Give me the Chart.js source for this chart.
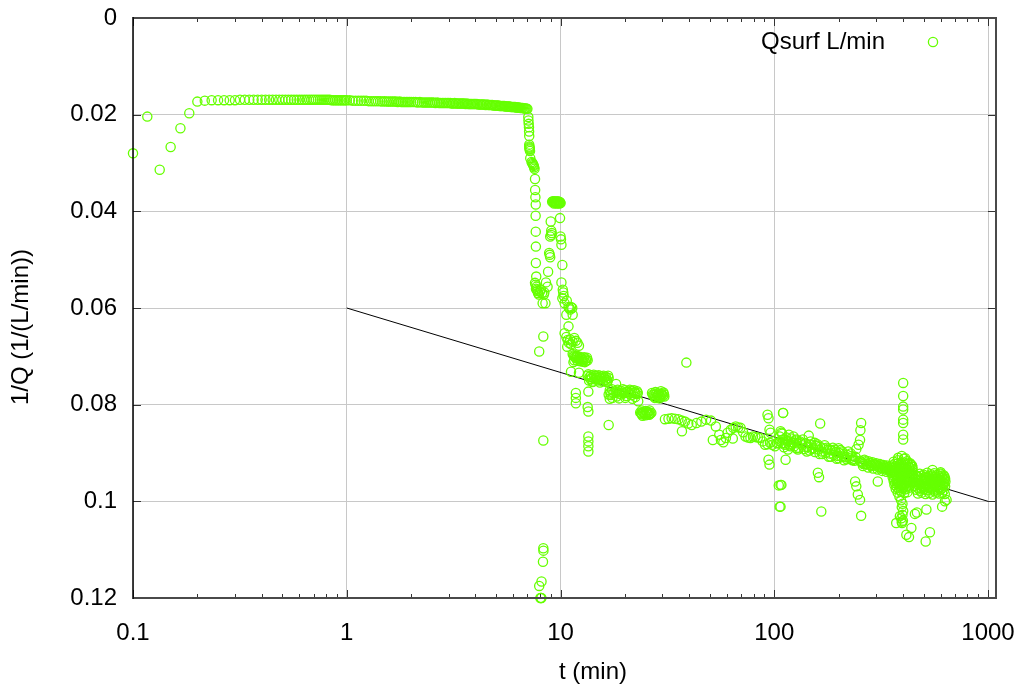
<!DOCTYPE html>
<html>
<head>
<meta charset="utf-8">
<title>Qsurf</title>
<script src="https://cdn.jsdelivr.net/npm/chart.js@4.4.0/dist/chart.umd.min.js"></script>
<style>
  html, body { margin: 0; padding: 0; background: #fff; }
  canvas { display: block; }
</style>
</head>
<body>
<canvas id="qChart" width="1021" height="687"></canvas>
<script>
// 1/Q of the surface flow against time, log time axis, 1/Q grows downward.

// start-up and plateau, time in seconds
const plateauSec = [
  6,7,8,9,10,11,12,13,
  14,15,16,17,18,19,20,21,22,23,24,25,26,27,28,29,30,31,32,33,34,35,36,37,
  38,39,40,41,42,43,44,45,46,47,48,49,50,51,52,53,54,55,56,57,58,59,60,
  62,64,66,68,70,72,74,76,78,80,82,84,86,88,90,92,94,96,98,100,102,104,106,108,110,112,114,116,118,120,
  123,126,129,132,135,138,141,144,147,150,153,156,159,162,165,168,171,174,177,180,
  183,186,189,192,195,198,201,204,207,210,213,216,219,222,225,228,231,234,237,240,
  244,248,252,256,260,264,268,272,276,280,284,288,292,296,300,304,308,312,316,320,
  324,328,332,336,340,344,348,352,356,360,364,368,372,376,380,384,388,392,396,400,
  404,408,412,416,420
];
const plateauQ = [
  0.0280,0.0204,0.0314,0.0267,0.0228,0.0197,0.0173,0.0171,
  0.0170,0.0170,0.0170,0.0170,0.0170,0.0169,0.0169,0.0169,0.0169,0.0169,0.0169,0.0169,
  0.0169,0.0169,0.0169,0.0169,0.0169,0.0169,0.0169,0.0169,0.0169,0.0169,0.0169,0.0169,
  0.0169,0.0169,0.0169,0.0169,0.0169,0.0169,0.0169,0.0169,0.0169,0.0169,0.0169,0.0169,0.0169,
  0.0170,0.0170,0.0170,0.0170,0.0170,0.0170,0.0170,0.0170,0.0170,0.0170,
  0.0170,0.0171,0.0171,0.0171,0.0171,0.0171,0.0171,0.0172,0.0172,0.0172,
  0.0172,0.0172,0.0172,0.0173,0.0172,0.0173,0.0173,0.0173,0.0173,0.0173,
  0.0173,0.0174,0.0173,0.0174,0.0174,0.0174,0.0174,0.0174,0.0174,0.0174,
  0.0174,0.0174,0.0175,0.0174,0.0175,0.0175,0.0175,0.0175,0.0175,0.0175,
  0.0175,0.0176,0.0175,0.0176,0.0176,0.0176,0.0176,0.0176,0.0176,0.0176,
  0.0176,0.0177,0.0177,0.0176,0.0177,0.0177,0.0177,0.0177,0.0177,0.0177,
  0.0177,0.0178,0.0177,0.0178,0.0178,0.0178,0.0178,0.0178,0.0178,0.0178,
  0.0178,0.0179,0.0179,0.0179,0.0179,0.0179,0.0180,0.0179,0.0180,0.0180,
  0.0180,0.0180,0.0181,0.0181,0.0181,0.0181,0.0181,0.0182,0.0182,0.0182,
  0.0182,0.0182,0.0183,0.0183,0.0183,0.0183,0.0183,0.0184,0.0184,0.0184,
  0.0184,0.0184,0.0185,0.0185,0.0185,0.0185,0.0186,0.0186,0.0186,0.0186,
  0.0187,0.0187,0.0187,0.0188,0.0188
];

// collapse around 7-8 min (times from here on in minutes)
const dropT = [
  7.07,7.08,7.10,7.12,7.13,7.14,7.14,7.15,7.16,7.17,
  7.18,7.20,7.22,7.32,7.38,7.42,7.46,7.50,7.52,7.56,
  7.60,7.61,7.63,7.66,7.65,7.66,7.67,7.67,7.70,7.60,
  7.65,7.72,7.68,7.75,7.80,7.85,7.92,8.00,8.10,8.20,
  8.35,8.40,8.25,8.31,7.95,8.31,8.31,8.32,8.28,8.15,
  7.95,8.05,8.10,8.14
];
const dropQ = [
  0.0205,0.0212,0.0219,0.0226,0.0235,0.0244,0.0262,0.0266,0.0268,0.0270,
  0.0272,0.0275,0.0290,0.0298,0.0300,0.0302,0.0304,0.0306,0.0309,0.0312,
  0.0333,0.0356,0.0371,0.0386,0.0409,0.0442,0.0473,0.0507,0.0535,0.0548,
  0.0552,0.0556,0.0560,0.0562,0.0565,0.0569,0.0572,0.0566,0.0562,0.0569,
  0.0572,0.0568,0.0590,0.0659,0.0690,0.0874,0.1097,0.1102,0.1125,0.1166,
  0.1175,0.1200,0.1200,0.1200
];

// step near 10 min
const stepT = [
  9.14,9.21,9.26,9.31,9.37,9.41,9.46,9.52,9.56,9.61,
  9.66,9.72,9.76,9.81,9.86,9.91,9.95,10.01,9.33,9.62,9.88,
  9.00,9.95,9.05,8.95,9.10,9.05,10.00,10.05,10.10,8.85,
  8.90,8.95,10.20,8.75,8.55,8.70,10.10,10.25,10.30,10.35,
  10.20,8.50,10.45,10.70,10.90,11.00,11.20,11.35,11.10,10.65,
  11.40,10.90,10.45,10.65,10.80,10.95,10.75,11.10,11.40,11.20,
  11.60,11.80,12.00,12.20
];
const stepQ = [
  0.0380,0.0379,0.0381,0.0380,0.0382,0.0379,0.0381,0.0380,0.0383,0.0380,
  0.0382,0.0379,0.0381,0.0383,0.0380,0.0382,0.0381,0.0383,0.0384,0.0384,0.0384,
  0.0421,0.0414,0.0449,0.0452,0.0445,0.0440,0.0452,0.0458,0.0469,0.0486,
  0.0490,0.0495,0.0511,0.0525,0.0547,0.0556,0.0547,0.0562,0.0568,0.0575,
  0.0580,0.0590,0.0590,0.0585,0.0598,0.0600,0.0598,0.0600,0.0603,0.0614,
  0.0614,0.0638,0.0652,0.0660,0.0666,0.0672,0.0680,0.0665,0.0670,0.0675,
  0.0662,0.0668,0.0672,0.0678
];

// settling, 11-31 min
const settleT = [
  11.40,11.60,11.80,12.00,12.20,12.50,12.80,13.10,13.40,11.50,12.40,13.00,
  11.50,11.70,11.90,12.10,12.30,12.60,12.90,13.20,11.60,12.00,12.70,13.30,
  11.20,12.20,13.40,13.70,14.00,14.40,14.80,15.20,15.60,16.00,
  16.40,16.80,13.60,14.20,15.00,15.80,16.60,18.20,13.50,11.80,
  11.80,11.80,13.40,13.50,16.80,17.00,16.80,13.50,13.50,13.50,13.50,
  13.50,13.90,14.30,14.70,15.10,15.50,15.90,16.30,16.70,13.80,14.60,15.40,16.20,
  14.10,15.30,16.50,
  17.0,17.4,18.1,18.5,19.1,19.6,20.0,20.6,21.1,21.5,
  22.1,22.8,17.2,18.3,19.3,20.4,21.4,22.4,23.0,23.1,
  17.1,17.7,18.3,18.8,19.4,19.9,20.3,20.9,21.3,21.8,22.3,22.7,
  17.5,18.8,20.1,21.7,
  23.6,24.0,24.5,25.0,25.5,26.0,26.6,24.2,25.8,
  23.8,24.3,24.8,25.3,25.8,26.3,24.0,25.1,26.1,
  26.8,27.3,27.8,28.3,28.8,29.3,29.8,30.3,30.6,28.0,29.5,
  27.0,27.5,28.1,28.6,29.1,29.6,30.1,30.5,27.6,29.0
];
const settleQ = [
  0.0695,0.0700,0.0704,0.0700,0.0706,0.0703,0.0708,0.0705,0.0708,0.0712,0.0710,0.0712,
  0.0698,0.0702,0.0699,0.0704,0.0701,0.0706,0.0702,0.0709,0.0708,0.0709,0.0711,0.0703,
  0.0732,0.0734,0.0740,0.0742,0.0744,0.0741,0.0745,0.0743,0.0746,0.0744,
  0.0748,0.0745,0.0750,0.0752,0.0750,0.0752,0.0750,0.0757,0.0773,0.0776,
  0.0786,0.0797,0.0805,0.0814,0.0779,0.0788,0.0842,0.0866,0.0876,0.0886,0.0897,
  0.0737,0.0739,0.0738,0.0740,0.0739,0.0741,0.0740,0.0742,0.0740,0.0747,0.0748,0.0747,0.0749,
  0.0753,0.0754,0.0753,
  0.0770,0.0768,0.0772,0.0769,0.0771,0.0768,0.0770,0.0773,0.0769,0.0771,
  0.0770,0.0772,0.0780,0.0783,0.0779,0.0782,0.0780,0.0784,0.0776,0.0793,
  0.0775,0.0776,0.0774,0.0777,0.0775,0.0776,0.0774,0.0777,0.0775,0.0776,0.0774,0.0778,
  0.0786,0.0787,0.0786,0.0788,
  0.0816,0.0820,0.0817,0.0822,0.0818,0.0821,0.0817,0.0823,0.0815,
  0.0818,0.0815,0.0819,0.0816,0.0820,0.0819,0.0812,0.0813,0.0812,
  0.0776,0.0780,0.0774,0.0782,0.0777,0.0784,0.0779,0.0775,0.0783,0.0786,0.0772,
  0.0779,0.0783,0.0777,0.0780,0.0781,0.0778,0.0782,0.0779,0.0786,0.0787
];

// slow decline, 30-130 min
const trendT = [
  30.8,32.0,33.1,34.3,35.6,36.9,38.2,39.6,41.1,43.3,
  45.6,48.0,50.6,53.3,55.3,56.3,59.4,62.6,64.3,66.0,
  67.8,69.6,71.5,73.4,75.4,77.4,79.5,81.6,83.8,86.0,
  88.3,90.6,93.0,95.5,98.0,100.7,103,106,109,112,
  116,119,123,127,51.6,37.0,38.8,60.5,64.0,57.8,
  93,94,110,95,96,94,95,108,105,106
];
const trendQ = [
  0.0830,0.0829,0.0828,0.0829,0.0830,0.0833,0.0835,0.0839,0.0842,0.0838,
  0.0835,0.0831,0.0833,0.0845,0.0862,0.0873,0.0869,0.0852,0.0848,0.0845,
  0.0847,0.0848,0.0857,0.0866,0.0868,0.0869,0.0866,0.0867,0.0868,0.0869,
  0.0876,0.0883,0.0882,0.0879,0.0883,0.0886,0.0880,0.0876,0.0880,0.0883,
  0.0893,0.0886,0.0879,0.0890,0.0873,0.0855,0.0713,0.0858,0.0870,0.0878,
  0.0821,0.0828,0.0817,0.0852,0.0858,0.0914,0.0924,0.0966,0.0967,0.1011
];

// late record, 100-360 min
const tailT = [
  106,108,110,112,114,116,118,120,122,124,126,128,130,132,135,138,140,143,146,149,
  152,155,158,161,164,167,170,174,178,182,186,190,194,198,202,206,210,215,220,225,
  230,235,240,
  105,111,117,123,129,136,142,148,156,163,172,180,188,196,204,212,222,232,
  109,115,121,127,134,141,150,159,168,176,184,192,200,208,218,228,237,
  252,258,264,270,276,282,288,294,300,306,312,318,324,330,336,342,348,354,
  260,275,290,305,320,335,350,
  255,261,267,273,279,285,291,297,303,309,315,321,327,333,339,345,351
];
const tailQ = [
  0.0866,0.0858,0.0872,0.0880,0.0868,0.0875,0.0884,0.0870,0.0878,0.0886,
  0.0874,0.0880,0.0889,0.0876,0.0884,0.0892,0.0880,0.0887,0.0895,0.0883,
  0.0890,0.0898,0.0886,0.0893,0.0887,0.0897,0.0890,0.0899,0.0893,0.0901,
  0.0895,0.0904,0.0898,0.0906,0.0900,0.0907,0.0902,0.0909,0.0904,0.0911,
  0.0906,0.0912,0.0908,
  0.0880,0.0888,0.0862,0.0866,0.0893,0.0872,0.0897,0.0876,0.0884,0.0902,
  0.0884,0.0908,0.0889,0.0912,0.0894,0.0915,0.0897,0.0915,
  0.0860,0.0876,0.0882,0.0872,0.0880,0.0888,0.0892,0.0882,0.0902,0.0889,
  0.0908,0.0893,0.0911,0.0897,0.0913,0.0901,0.0916,
  0.0916,0.0920,0.0914,0.0922,0.0917,0.0925,0.0919,0.0926,0.0921,0.0928,
  0.0923,0.0930,0.0925,0.0931,0.0926,0.0933,0.0928,0.0935,
  0.0927,0.0930,0.0932,0.0934,0.0937,0.0939,0.0940,
  0.0918,0.0923,0.0917,0.0924,0.0920,0.0927,0.0922,0.0924,0.0925,0.0930,
  0.0926,0.0932,0.0928,0.0934,0.0929,0.0936,0.0931
];

// dense cluster around 400 min
const clusterT = [
  362,378,392,404,418,432,
  356,370,385,399,413,427,441,
  360,374,388,402,416,430,444,
  355,369,383,397,411,425,439,
  358,372,386,400,414,428,442,
  362,376,390,404,418,432,446,
  365,379,393,407,421,435,
  370,384,398,412,426,
  378,392,406,420,
  366,380,394,408,422,436,
  359,373,387,401,415,429,443,
  357,371,385,399,413,427,441,
  360,374,388,402,416,430,444,
  363,377,391,405,419,433,
  368,382,396,410,424,
  374,388,402,416,
  385,392,398,395,401,398,393,400,396,380,395,410
];
const clusterQ = [
  0.0918,0.0915,0.0920,0.0912,0.0917,0.0921,
  0.0926,0.0928,0.0924,0.0927,0.0925,0.0929,0.0926,
  0.0934,0.0932,0.0936,0.0933,0.0935,0.0931,0.0934,
  0.0942,0.0944,0.0941,0.0943,0.0940,0.0942,0.0945,
  0.0950,0.0948,0.0951,0.0949,0.0952,0.0950,0.0948,
  0.0958,0.0960,0.0957,0.0959,0.0956,0.0958,0.0961,
  0.0966,0.0964,0.0967,0.0965,0.0968,0.0966,
  0.0974,0.0976,0.0973,0.0975,0.0972,
  0.0982,0.0980,0.0983,0.0981,
  0.0922,0.0921,0.0923,0.0920,0.0922,0.0924,
  0.0930,0.0931,0.0929,0.0930,0.0932,0.0930,0.0929,
  0.0938,0.0937,0.0939,0.0938,0.0937,0.0939,0.0938,
  0.0946,0.0947,0.0945,0.0946,0.0947,0.0945,0.0946,
  0.0954,0.0955,0.0953,0.0954,0.0955,0.0953,
  0.0962,0.0961,0.0963,0.0962,0.0961,
  0.0970,0.0969,0.0971,0.0970,
  0.0990,0.0998,0.1005,0.1012,0.1020,0.1028,0.1035,0.1040,0.1045,0.0910,0.0906,0.0911
];

// end of record, 450-650 min
const endT = [
  460,480,500,520,540,560,580,600,620,
  455,472,492,512,532,552,572,592,612,630,
  458,478,498,518,538,558,578,598,618,632,
  455,475,495,515,535,555,575,595,615,630,
  462,482,502,522,542,562,582,602,622,
  470,490,510,530,550,570,590,610,628,
  468,488,508,528,548,568,588,608,626,
  465,485,505,525,545,565,585,605,625,
  466,486,506,526,546,566,586,606,624,
  468,488,508,528,548,568,588,608
];
const endQ = [
  0.0946,0.0943,0.0945,0.0941,0.0944,0.0942,0.0945,0.0943,0.0946,
  0.0952,0.0950,0.0953,0.0951,0.0954,0.0950,0.0952,0.0955,0.0951,0.0953,
  0.0960,0.0962,0.0959,0.0961,0.0958,0.0962,0.0960,0.0958,0.0961,0.0959,
  0.0968,0.0966,0.0969,0.0967,0.0970,0.0966,0.0968,0.0971,0.0967,0.0969,
  0.0976,0.0978,0.0975,0.0977,0.0974,0.0978,0.0976,0.0975,0.0977,
  0.0984,0.0982,0.0985,0.0983,0.0986,0.0982,0.0984,0.0983,0.0985,
  0.0948,0.0947,0.0949,0.0948,0.0947,0.0949,0.0948,0.0947,0.0949,
  0.0956,0.0957,0.0955,0.0956,0.0957,0.0955,0.0956,0.0957,0.0955,
  0.0964,0.0965,0.0963,0.0964,0.0965,0.0963,0.0964,0.0965,0.0963,
  0.0972,0.0973,0.0971,0.0972,0.0973,0.0971,0.0972,0.0973
];

// isolated readings, 100-650 min
const strayT = [
  110,107,113,107,107,145,164,160,162,166,
  155,182,200,212,232,255,253,252,248,242,
  239,242,246,252,255,305,
  401,401,401,401,401,401,401,401,
  372,415,427,438,455,465,511,535,515,610,
  629,550,600,640,387,395
];
const strayQ = [
  0.0817,0.0855,0.0914,0.0966,0.1011,0.0864,0.0839,0.0941,0.0950,0.1021,
  0.0879,0.0893,0.0890,0.0907,0.0914,0.0838,0.0853,0.0873,0.0883,0.0892,
  0.0959,0.0969,0.0986,0.0997,0.1030,0.0959,
  0.0755,0.0782,0.0804,0.0810,0.0831,0.0838,0.0862,0.0872,
  0.1045,0.1069,0.1074,0.1055,0.1026,0.1023,0.1083,0.1064,0.1017,0.1011,
  0.1000,0.0935,0.0940,0.0997,0.1031,0.1042
];

// straight-line fit drawn over 1-1000 min
const fitT = [1, 1000];
const fitQ = [0.06, 0.1];

const xTicks = [0.1, 1, 10, 100, 1000];
const yTicks = [0, 0.02, 0.04, 0.06, 0.08, 0.1, 0.12];

const GREEN = '#66ff00';
const FONT = { family: "'Liberation Sans', Arial, sans-serif", size: 24 };

const qsurf = [];
function addSeries(ts, qs, perMin) {
  ts.forEach((t, i) => qsurf.push({ x: t / perMin, y: qs[i] }));
}
addSeries(plateauSec, plateauQ, 60);
addSeries(dropT, dropQ, 1);
addSeries(stepT, stepQ, 1);
addSeries(settleT, settleQ, 1);
addSeries(trendT, trendQ, 1);
addSeries(tailT, tailQ, 1);
addSeries(clusterT, clusterQ, 1);
addSeries(endT, endQ, 1);
addSeries(strayT, strayQ, 1);

const fitLine = fitT.map((t, i) => ({ x: t, y: fitQ[i] }));

// border, inward tick marks, axis labels and key
const decorations = {
  id: 'decorations',
  afterDraw(chart) {
    const { ctx, chartArea: a, scales: { x, y } } = chart;
    ctx.save();

    // tick marks pointing into the plot, mirrored on the opposite side
    ctx.strokeStyle = '#333';
    ctx.lineWidth = 1;
    ctx.beginPath();
    xTicks.forEach(v => {
      const px = Math.round(x.getPixelForValue(v)) + 0.5;
      ctx.moveTo(px, a.bottom); ctx.lineTo(px, a.bottom - 8);
      ctx.moveTo(px, a.top); ctx.lineTo(px, a.top + 8);
    });
    xTicks.slice(0, -1).forEach(d => {
      for (let k = 2; k < 10; k++) {
        const px = Math.round(x.getPixelForValue(d * k)) + 0.5;
        ctx.moveTo(px, a.bottom); ctx.lineTo(px, a.bottom - 4);
        ctx.moveTo(px, a.top); ctx.lineTo(px, a.top + 4);
      }
    });
    yTicks.forEach(v => {
      const py = Math.round(y.getPixelForValue(v)) + 0.5;
      ctx.moveTo(a.left, py); ctx.lineTo(a.left + 8, py);
      ctx.moveTo(a.right, py); ctx.lineTo(a.right - 8, py);
    });
    ctx.stroke();

    // plot border
    ctx.strokeStyle = '#4a4a4a';
    ctx.lineWidth = 2;
    ctx.beginPath();
    ctx.moveTo(a.left, a.top); ctx.lineTo(a.right, a.top);
    ctx.lineTo(a.right, a.bottom); ctx.lineTo(a.left, a.bottom);
    ctx.stroke();
    ctx.strokeStyle = '#000';
    ctx.lineWidth = 1.5;
    ctx.beginPath();
    ctx.moveTo(a.left, a.top - 1); ctx.lineTo(a.left, a.bottom + 1);
    ctx.stroke();

    // axis titles
    ctx.fillStyle = '#000';
    ctx.font = `${FONT.size}px ${FONT.family}`;
    ctx.textAlign = 'center';
    ctx.textBaseline = 'middle';
    ctx.fillText('t (min)', a.left + 460, a.bottom + 74);
    ctx.save();
    ctx.translate(21, a.top + 309);
    ctx.rotate(-Math.PI / 2);
    ctx.fillText('1/Q (1/(L/min))', 0, 0);
    ctx.restore();

    // key, top right
    ctx.textAlign = 'right';
    ctx.fillText('Qsurf L/min', a.right - 111, a.top + 24);
    ctx.strokeStyle = GREEN;
    ctx.lineWidth = 1.3;
    ctx.beginPath();
    ctx.arc(a.right - 63, a.top + 24, 4.6, 0, Math.PI * 2);
    ctx.stroke();

    ctx.restore();
  }
};

new Chart(document.getElementById('qChart'), {
  type: 'scatter',
  data: {
    datasets: [
      {
        label: 'Qsurf L/min',
        data: qsurf,
        pointStyle: 'circle',
        pointRadius: 4.6,
        pointBorderWidth: 1.3,
        pointBorderColor: GREEN,
        pointBackgroundColor: 'rgba(0,0,0,0)',
        clip: false
      },
      {
        label: 'fit',
        data: fitLine,
        showLine: true,
        borderColor: '#000',
        borderWidth: 1,
        pointRadius: 0
      }
    ]
  },
  options: {
    responsive: false,
    animation: false,
    events: [],
    layout: { padding: { top: 18, right: 25, left: 0, bottom: 0 } },
    plugins: { legend: { display: false }, tooltip: { enabled: false } },
    scales: {
      x: {
        type: 'logarithmic',
        min: 0.1,
        max: 1090,
        afterBuildTicks: s => { s.ticks = xTicks.map(v => ({ value: v })); },
        afterFit: s => { s.height = 89; s.paddingLeft = 0; s.paddingRight = 0; },
        grid: { color: '#c8c8c8', lineWidth: 1, drawTicks: false },
        border: { display: false },
        ticks: {
          font: FONT, color: '#000', padding: 21,
          maxRotation: 0, autoSkip: false,
          callback: v => String(v)
        }
      },
      y: {
        type: 'linear',
        reverse: true,
        min: 0,
        max: 0.12,
        afterBuildTicks: s => { s.ticks = yTicks.map(v => ({ value: v })); },
        afterFit: s => { s.width = 133; s.paddingTop = 0; s.paddingBottom = 0; },
        grid: { color: '#c8c8c8', lineWidth: 1, drawTicks: false },
        border: { display: false },
        ticks: {
          font: FONT, color: '#000', padding: 16,
          callback: v => String(+v.toFixed(2))
        }
      }
    }
  },
  plugins: [decorations]
});
</script>
</body>
</html>
